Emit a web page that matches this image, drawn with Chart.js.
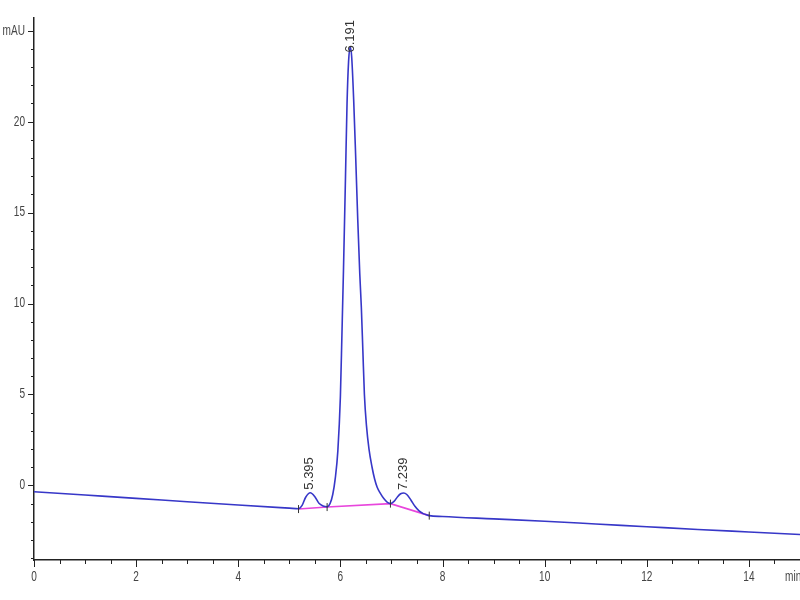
<!DOCTYPE html>
<html>
<head>
<meta charset="utf-8">
<script src="https://cdn.jsdelivr.net/npm/chart.js@4.4.1/dist/chart.umd.min.js"></script>
<style>
  html, body { margin: 0; padding: 0; background: #fff; overflow: hidden; }
  #wrap { width: 800px; height: 600px; }
</style>
</head>
<body>
<div id="wrap"><canvas id="chrom" width="800" height="600"></canvas></div>
<script>
// retention time (min) and detector signal (mAU)
const times = [0, 1, 2, 3, 4, 5, 5.18, 5.25, 5.32, 5.41, 5.50, 5.58, 5.66, 5.74, 5.80, 5.85, 5.90, 5.95,
  6.00, 6.03, 6.06, 6.10, 6.13, 6.16, 6.19, 6.22, 6.26, 6.30, 6.34, 6.38, 6.41, 6.44, 6.47, 6.51, 6.56,
  6.62, 6.67, 6.72, 6.78, 6.85, 6.92, 6.98, 7.05, 7.12, 7.18, 7.24, 7.30, 7.38, 7.46, 7.54, 7.62, 7.70,
  7.74, 8, 9, 10, 11, 12, 13, 14, 15];
const signal = [-0.35, -0.53, -0.71, -0.90, -1.08, -1.25, -1.28, -1.10, -0.65, -0.40, -0.62, -0.98, -1.13, -1.17, -0.98, -0.50, 0.40, 1.90,
  4.90, 8.30, 11.8, 17.0, 21.0, 23.3, 24.1, 23.6, 21.2, 18.0, 14.6, 11.6, 9.8, 7.4, 5.0, 3.3, 2.0,
  1.0, 0.35, -0.10, -0.42, -0.72, -0.93, -1.00, -0.88, -0.62, -0.46, -0.42, -0.50, -0.80, -1.15, -1.40, -1.55, -1.63,
  -1.66, -1.71, -1.84, -1.97, -2.12, -2.27, -2.42, -2.56, -2.70];

// integration baseline drawn under the peaks
const baseTimes = [5.18, 5.74, 6.98, 7.74];
const baseValues = [-1.30, -1.19, -1.00, -1.66];

// peak annotations
const peakTimes = [5.395, 6.191, 7.239];
const peakApex = [-0.40, 24.1, -0.42];
const peakLabels = ['5.395', '6.191', '7.239'];

// axis ticks
const xMajor = [0, 2, 4, 6, 8, 10, 12, 14];
const xMinorStep = 0.5;
const yMajor = [0, 5, 10, 15, 20];
const yMinorStep = 1;
const xUnit = 'min';
const yUnit = 'mAU';

const tickFont = "14px 'Liberation Sans', Arial, sans-serif";
const squeeze = 0.72; // narrow look of the instrument's axis font

function narrowText(c, txt, x, y, align) {
  const w = c.measureText(txt).width * squeeze;
  let left = x;
  if (align === 'center') left = x - w / 2;
  if (align === 'right') left = x - w;
  c.save();
  c.translate(left, y);
  c.scale(squeeze, 1);
  c.textAlign = 'left';
  c.fillText(txt, 0, 0);
  c.restore();
}

const axisDecor = {
  id: 'axisDecor',
  afterDraw(chart) {
    const c = chart.ctx;
    const xs = chart.scales.x, ys = chart.scales.y;
    const area = chart.chartArea;
    c.save();
    c.strokeStyle = '#222';
    c.lineWidth = 1;
    // x ticks
    for (let v = xs.min; v <= xs.max - 0.01; v += xMinorStep) {
      const px = Math.round(xs.getPixelForValue(v)) + 0.5;
      const major = xMajor.includes(Math.round(v * 100) / 100);
      c.beginPath();
      c.moveTo(px, area.bottom);
      c.lineTo(px, area.bottom + (major ? 7 : 4));
      c.stroke();
    }
    // y ticks
    for (let v = Math.ceil(ys.min); v <= ys.max; v += yMinorStep) {
      const py = Math.round(ys.getPixelForValue(v)) + 0.5;
      const major = v % 5 === 0;
      c.beginPath();
      c.moveTo(area.left, py);
      c.lineTo(area.left - (major ? 6 : 3), py);
      c.stroke();
    }
    c.fillStyle = '#444';
    c.font = tickFont;
    c.textBaseline = 'top';
    xMajor.forEach(v => narrowText(c, String(v), xs.getPixelForValue(v), area.bottom + 10, 'center'));
    narrowText(c, xUnit, xs.getPixelForValue(15) - 15, area.bottom + 10, 'left');
    c.textBaseline = 'middle';
    yMajor.forEach(v => narrowText(c, String(v), area.left - 9, ys.getPixelForValue(v), 'right'));
    narrowText(c, yUnit, area.left - 9, ys.getPixelForValue(25), 'right');

    // peak labels, rotated, reading bottom to top
    c.fillStyle = '#333';
    c.font = "13px 'Liberation Sans', Arial, sans-serif";
    peakLabels.forEach((lab, i) => {
      const px = xs.getPixelForValue(peakTimes[i]);
      const w = c.measureText(lab).width;
      let py = ys.getPixelForValue(peakApex[i]) - 3;
      py = Math.max(py, area.top + 2 + w);
      c.save();
      c.translate(px, py);
      c.rotate(-Math.PI / 2);
      c.textAlign = 'left';
      c.textBaseline = 'middle';
      c.fillText(lab, 0, 0);
      c.restore();
    });
    c.restore();
  }
};

new Chart(document.getElementById('chrom'), {
  type: 'line',
  data: {
    datasets: [
      {
        label: 'signal',
        data: times.map((t, i) => ({ x: t, y: signal[i] })),
        borderColor: 'rgb(55, 55, 200)',
        borderWidth: 1.6,
        pointRadius: 0,
        cubicInterpolationMode: 'monotone',
        order: 1
      },
      {
        label: 'baseline',
        data: baseTimes.map((t, i) => ({ x: t, y: baseValues[i] })),
        borderColor: 'rgb(232, 70, 220)',
        borderWidth: 1.6,
        pointRadius: 0,
        order: 2
      },
      {
        label: 'marks',
        data: baseTimes.map((t, i) => ({ x: t, y: baseValues[i] })),
        showLine: false,
        pointStyle: 'line',
        rotation: 90,
        pointRadius: 4,
        borderColor: '#333',
        borderWidth: 1,
        order: 0
      }
    ]
  },
  options: {
    responsive: false,
    animation: false,
    layout: { autoPadding: false, padding: { left: 34, top: 18, right: 0, bottom: 40 } },
    plugins: { legend: { display: false }, tooltip: { enabled: false } },
    scales: {
      x: {
        type: 'linear', min: 0, max: 15,
        grid: { display: false, drawTicks: false },
        ticks: { display: false },
        border: { display: true, color: '#222', width: 1.5 }
      },
      y: {
        type: 'linear', min: -4.1, max: 25.7,
        grid: { display: false, drawTicks: false },
        ticks: { display: false },
        border: { display: true, color: '#222', width: 1.5 }
      }
    }
  },
  plugins: [axisDecor]
});
</script>
</body>
</html>
